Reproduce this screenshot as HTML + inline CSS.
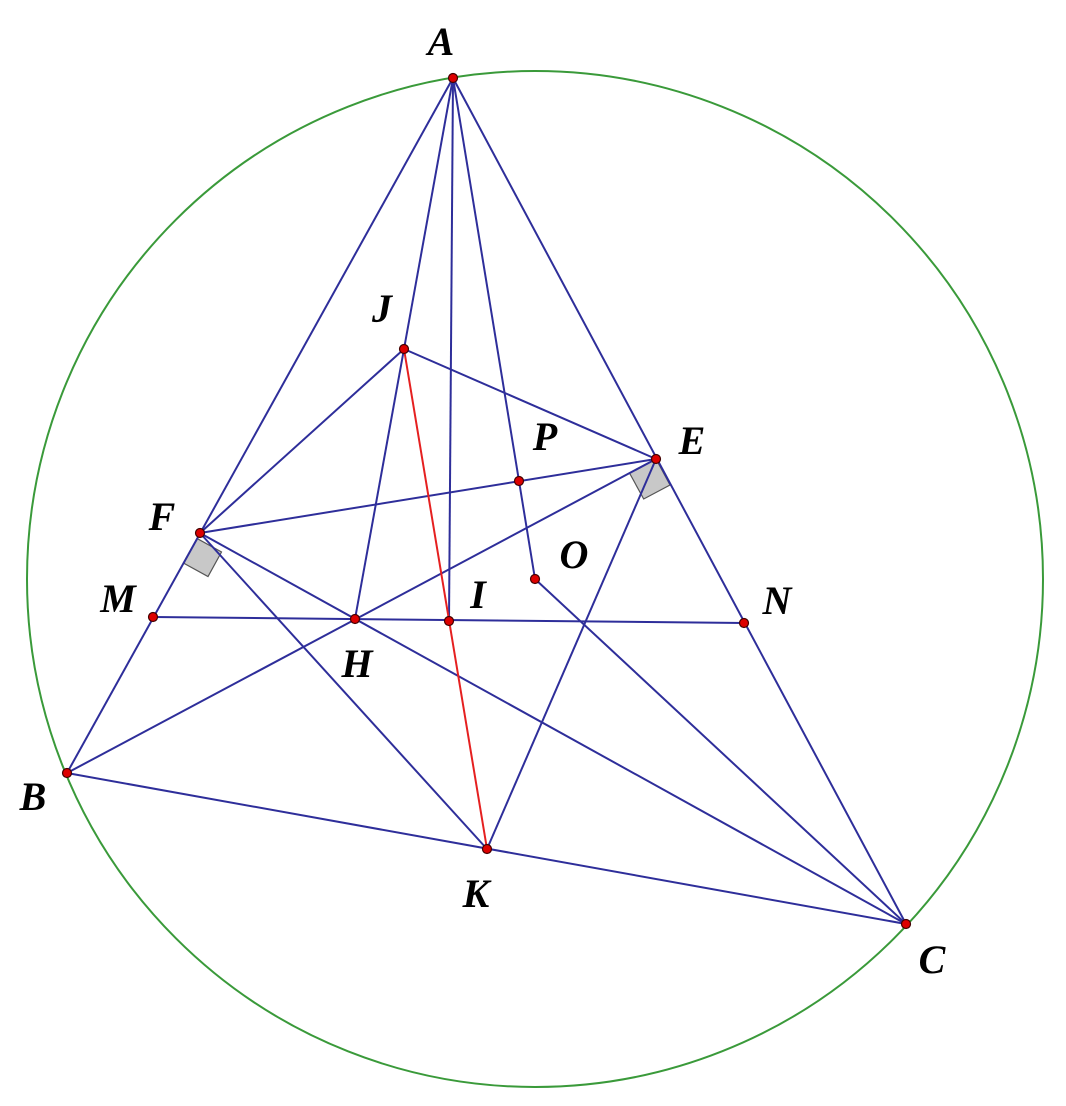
<!DOCTYPE html>
<html><head><meta charset="utf-8"><style>
html,body{margin:0;padding:0;background:#fff;}
svg{display:block;}
text{font-family:"Liberation Serif",serif;font-style:italic;font-weight:bold;font-size:40px;fill:#000;text-anchor:middle;}
</style></head><body>
<svg width="1066" height="1106" viewBox="0 0 1066 1106">
<circle cx="535" cy="579" r="508" fill="none" stroke="#3a9a3a" stroke-width="2"/>
<polygon points="197,538.5 183.4,563 208,576.5 221.5,552" fill="#c8c8c8" stroke="#555" stroke-width="1.2"/>
<polygon points="656,459 670,485 643.7,499 629.5,473" fill="#c8c8c8" stroke="#555" stroke-width="1.2"/>
<g stroke="#2e2e9a" stroke-width="2" fill="none">
<line x1="453" y1="78" x2="67" y2="773"/>
<line x1="453" y1="78" x2="906" y2="924"/>
<line x1="67" y1="773" x2="906" y2="924"/>
<line x1="453" y1="78" x2="404" y2="349"/>
<line x1="453" y1="78" x2="449" y2="621"/>
<line x1="453" y1="78" x2="519" y2="481"/>
<line x1="519" y1="481" x2="535" y2="579"/>
<line x1="535" y1="579" x2="906" y2="924"/>
<line x1="404" y1="349" x2="200" y2="533"/>
<line x1="404" y1="349" x2="656" y2="459"/>
<line x1="404" y1="349" x2="355" y2="619"/>
<line x1="200" y1="533" x2="656" y2="459"/>
<line x1="200" y1="533" x2="906" y2="924"/>
<line x1="200" y1="533" x2="487" y2="849"/>
<line x1="67" y1="773" x2="656" y2="459"/>
<line x1="656" y1="459" x2="487" y2="849"/>
<line x1="153" y1="617" x2="744" y2="623"/>
</g>
<line x1="404" y1="349" x2="487" y2="849" stroke="#e52020" stroke-width="2"/>
<g fill="#d00" stroke="#400" stroke-width="1.2">
<circle cx="453" cy="78" r="4.5"/><circle cx="67" cy="773" r="4.5"/><circle cx="906" cy="924" r="4.5"/>
<circle cx="656" cy="459" r="4.5"/><circle cx="200" cy="533" r="4.5"/><circle cx="404" cy="349" r="4.5"/>
<circle cx="519" cy="481" r="4.5"/><circle cx="535" cy="579" r="4.5"/><circle cx="449" cy="621" r="4.5"/>
<circle cx="355" cy="619" r="4.5"/><circle cx="153" cy="617" r="4.5"/><circle cx="744" cy="623" r="4.5"/>
<circle cx="487" cy="849" r="4.5"/>
</g>
<text x="441" y="55">A</text>
<text x="382" y="322">J</text>
<text x="545" y="450">P</text>
<text x="692" y="454">E</text>
<text x="162" y="530">F</text>
<text x="574" y="568">O</text>
<text x="118" y="612">M</text>
<text x="478" y="608">I</text>
<text x="777" y="614">N</text>
<text x="357" y="677">H</text>
<text x="33" y="810">B</text>
<text x="476" y="907">K</text>
<text x="932" y="973">C</text>
</svg>
</body></html>
